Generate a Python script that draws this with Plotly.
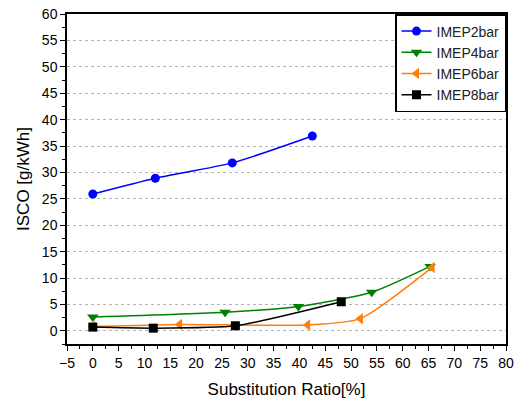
import plotly.graph_objects as go

# Substitution ratio [%] and ISCO [g/kWh] per load case
x_2bar = [0, 12.1, 27.0, 42.5]
y_2bar = [25.9, 28.9, 31.8, 36.9]

x_4bar = [0, 25.6, 39.8, 54.0, 65.3]
y_4bar = [2.6, 3.5, 4.6, 7.3, 12.2]

x_6bar = [0, 16.8, 41.6, 51.8, 65.7]
y_6bar = [0.8, 1.2, 1.1, 2.3, 12.0]

x_8bar = [0, 11.7, 27.6, 48.1]
y_8bar = [0.7, 0.5, 0.95, 5.5]

series = [
    ("IMEP2bar", x_2bar, y_2bar, "#0000ff", "circle", 9),
    ("IMEP4bar", x_4bar, y_4bar, "#008000", "triangle-down", 10),
    ("IMEP6bar", x_6bar, y_6bar, "#ff7f0e", "triangle-left", 10),
    ("IMEP8bar", x_8bar, y_8bar, "#000000", "square", 9),
]

FONT = "Liberation Sans, Arial"

fig = go.Figure()
for name, xs, ys, color, symbol, size in series:
    fig.add_trace(go.Scatter(
        x=xs, y=ys, name=name, mode="lines+markers",
        line=dict(color=color, width=1.5, shape="spline", smoothing=0.6),
        marker=dict(color=color, symbol=symbol, size=size),
    ))

axis_common = dict(
    showline=True, linecolor="black", linewidth=1.5, mirror=True,
    ticks="outside", ticklen=5, tickwidth=1.2, tickcolor="black",
    zeroline=False, automargin=False,
    tickfont=dict(family=FONT, size=14, color="black"),
)

fig.update_xaxes(
    range=[-5, 80], dtick=5, tick0=0, showgrid=False,
    minor=dict(dtick=2.5, ticks="outside", ticklen=3, tickcolor="black", showgrid=False),
    title=dict(text="Substitution Ratio[%]", font=dict(family=FONT, size=17, color="black"), standoff=15),
    **axis_common,
)
fig.update_yaxes(
    range=[-2.5, 60], dtick=5, tick0=0, showgrid=True,
    gridcolor="#b4b4b4", griddash="dot", gridwidth=1,
    minor=dict(dtick=2.5, ticks="outside", ticklen=3, tickcolor="black", showgrid=False),
    title=dict(text="ISCO [g/kWh]", font=dict(family=FONT, size=17, color="black"), standoff=8),
    **axis_common,
)

fig.update_layout(
    width=520, height=399,
    margin=dict(l=67, r=14, t=14, b=55),
    paper_bgcolor="white", plot_bgcolor="white",
    font=dict(family=FONT, color="black"),
    legend=dict(
        x=1, y=1, xanchor="right", yanchor="top",
        bordercolor="black", borderwidth=1.5, bgcolor="white",
        font=dict(family=FONT, size=14, color="#222"),
        tracegroupgap=0, itemwidth=30,
    ),
)

fig.write_html("out.html")
